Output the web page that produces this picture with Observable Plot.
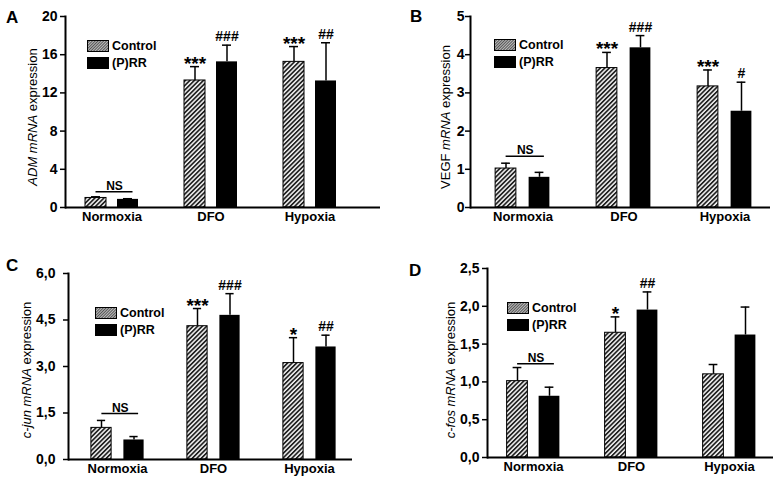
<!DOCTYPE html>
<html>
<head>
<meta charset="utf-8">
<script src="https://cdn.jsdelivr.net/npm/d3@7"></script>
<script src="https://cdn.jsdelivr.net/npm/@observablehq/plot@0.6"></script>
<style>
  body { margin: 0; background: #fff; }
  #wrap { position: relative; width: 779px; height: 480px; font-family: "Liberation Sans", Arial, sans-serif; color: #000; overflow: hidden; }
  .panel { position: absolute; }
  .plab { position: absolute; font-weight: bold; font-size: 17px; line-height: 1; }
  .ylab { position: absolute; font-size: 13px; white-space: nowrap; transform: translate(-50%, -50%) rotate(-90deg); line-height: 1; }
  .leg { position: absolute; display: flex; align-items: center; font-weight: bold; font-size: 12.5px; line-height: 1; }
  .leg svg { display: block; margin-right: 3px; }
</style>
</head>
<body>
<svg width="0" height="0" style="position:absolute">
  <defs>
    <pattern id="barHatch" width="3.2" height="3.2" patternUnits="userSpaceOnUse" patternTransform="rotate(45)">
      <rect width="3.2" height="3.2" fill="#f2f2f2"></rect>
      <rect width="1.7" height="3.2" fill="#222"></rect>
    </pattern>
    <pattern id="legHatch" width="2" height="2" patternUnits="userSpaceOnUse" patternTransform="rotate(45)">
      <rect width="2" height="2" fill="#bdbdbd"></rect>
      <rect width="1" height="2" fill="#555"></rect>
    </pattern>
  </defs>
</svg>
<div id="wrap"></div>
<script>
const groups = ["Normoxia", "DFO", "Hypoxia"];
const seriesNames = ["Control", "(P)RR"];

// Panel A: ADM
const admControl = [1.0, 13.3, 15.25];
const admControlErr = [0.12, 1.45, 1.6];
const admPRR = [0.85, 15.25, 13.25];
const admPRRErr = [0.07, 1.75, 4.0];
const admControlSig = ["", "***", "***"];
const admPRRSig = ["", "###", "##"];
const admNS = 1.64;
const admTicks = [0, 4, 8, 12, 16, 20];
const admTickLabels = ["0", "4", "8", "12", "16", "20"];

// Panel B: VEGF
const vegfControl = [1.02, 3.65, 3.17];
const vegfControlErr = [0.14, 0.41, 0.43];
const vegfPRR = [0.79, 4.18, 2.52];
const vegfPRRErr = [0.13, 0.32, 0.76];
const vegfControlSig = ["", "***", "***"];
const vegfPRRSig = ["", "###", "#"];
const vegfNS = 1.34;
const vegfTicks = [0, 1, 2, 3, 4, 5];
const vegfTickLabels = ["0", "1", "2", "3", "4", "5"];

// Panel C: c-jun
const cjunControl = [1.02, 4.30, 3.11];
const cjunControlErr = [0.24, 0.57, 0.82];
const cjunPRR = [0.63, 4.65, 3.63];
const cjunPRRErr = [0.11, 0.70, 0.38];
const cjunControlSig = ["", "***", "*"];
const cjunPRRSig = ["", "###", "##"];
const cjunNS = 1.48;
const cjunTicks = [0, 1.5, 3, 4.5, 6];
const cjunTickLabels = ["0,0", "1,5", "3,0", "4,5", "6,0"];

// Panel D: c-fos
const cfosControl = [1.01, 1.65, 1.10];
const cfosControlErr = [0.18, 0.21, 0.13];
const cfosPRR = [0.81, 1.95, 1.62];
const cfosPRRErr = [0.12, 0.24, 0.37];
const cfosControlSig = ["", "*", ""];
const cfosPRRSig = ["", "##", ""];
const cfosNS = 1.24;
const cfosTicks = [0, 0.5, 1, 1.5, 2, 2.5];
const cfosTickLabels = ["0,0", "0,5", "1,0", "1,5", "2,0", "2,5"];

const panels = [
  {id: "A", left: 0, top: 0, w: 390, m: [65, 10, 16, 33], yDomain: [0, 20],
   xRange: [61.5, 358.5], off: [-16, 16], tickPad: 3,
   ctrl: admControl, ctrlErr: admControlErr, prr: admPRR, prrErr: admPRRErr,
   ctrlSig: admControlSig, prrSig: admPRRSig, ns: admNS, ticks: admTicks, tickLabels: admTickLabels,
   gene: "ADM", geneItalic: true, ylab: [32, 117], plab: [6, 9], leg: [87, 40]},
  {id: "B", left: 390, top: 0, w: 389, m: [80, 9, 16, 33], yDomain: [0, 5],
   xRange: [81.9, 385.6], off: [-17, 16.5], tickPad: 1,
   ctrl: vegfControl, ctrlErr: vegfControlErr, prr: vegfPRR, prrErr: vegfPRRErr,
   ctrlSig: vegfControlSig, prrSig: vegfPRRSig, ns: vegfNS, ticks: vegfTicks, tickLabels: vegfTickLabels,
   gene: "VEGF", geneItalic: false, ylab: [445, 117], plab: [410, 8], leg: [494, 39]},
  {id: "C", left: 0, top: 240, w: 390, m: [68, 38, 33, 21], yDomain: [0, 6],
   xRange: [67.6, 357.9], off: [-16, 16.5], tickPad: 8,
   ctrl: cjunControl, ctrlErr: cjunControlErr, prr: cjunPRR, prrErr: cjunPRRErr,
   ctrlSig: cjunControlSig, prrSig: cjunPRRSig, ns: cjunNS, ticks: cjunTicks, tickLabels: cjunTickLabels,
   gene: "c-jun", geneItalic: true, ylab: [26, 370], plab: [6, 257], leg: [95, 307]},
  {id: "D", left: 390, top: 240, w: 389, m: [97, 6, 28, 23], yDomain: [0, 2.5],
   xRange: [93.4, 388.1], off: [-16, 16], tickPad: 3,
   ctrl: cfosControl, ctrlErr: cfosControlErr, prr: cfosPRR, prrErr: cfosPRRErr,
   ctrlSig: cfosControlSig, prrSig: cfosPRRSig, ns: cfosNS, ticks: cfosTicks, tickLabels: cfosTickLabels,
   gene: "c-fos", geneItalic: true, ylab: [450, 370], plab: [409, 262], leg: [507, 302]}
];

const wrap = document.getElementById("wrap");
const FONT = "'Liberation Sans', Arial, sans-serif";

function makePanel(p) {
  const rows = groups.map((g, i) => ({
    group: g,
    ctrl: p.ctrl[i], ctrlTop: p.ctrl[i] + p.ctrlErr[i], ctrlSig: p.ctrlSig[i],
    prr: p.prr[i], prrTop: p.prr[i] + p.prrErr[i], prrSig: p.prrSig[i]
  }));
  const nsRows = rows.filter((d) => d.group === groups[0]);
  const step = (p.xRange[1] - p.xRange[0]) / groups.length;
  const barW = 21, capW = 9;
  const barIns = (step - barW) / 2;
  const capIns = (step - capW) / 2;
  const [o1, o2] = p.off;
  const nsHalf = (o2 + 5 - o1) / 2;
  return Plot.plot({
    width: p.w, height: 240,
    marginLeft: p.m[0], marginRight: p.m[1], marginTop: p.m[2], marginBottom: p.m[3],
    style: {fontFamily: FONT, fontSize: "13px", fontWeight: "bold", color: "#000", background: "transparent", overflow: "visible"},
    x: {type: "band", domain: groups, range: p.xRange, padding: 0},
    y: {domain: p.yDomain},
    marks: [
      Plot.barY(rows, {x: "group", y: "ctrl", fill: "url(#barHatch)", stroke: "#000", strokeWidth: 1, insetLeft: barIns, insetRight: barIns, dx: o1}),
      Plot.barY(rows, {x: "group", y: "prr", fill: "#000", insetLeft: barIns, insetRight: barIns, dx: o2}),
      Plot.ruleX(rows, {x: "group", y1: "ctrl", y2: "ctrlTop", dx: o1, stroke: "#000", strokeWidth: 1.5}),
      Plot.ruleX(rows, {x: "group", y1: "prr", y2: "prrTop", dx: o2, stroke: "#000", strokeWidth: 1.5}),
      Plot.tickY(rows, {x: "group", y: "ctrlTop", dx: o1, insetLeft: capIns, insetRight: capIns, stroke: "#000", strokeWidth: 1.5}),
      Plot.tickY(rows, {x: "group", y: "prrTop", dx: o2, insetLeft: capIns, insetRight: capIns, stroke: "#000", strokeWidth: 1.5}),
      Plot.text(rows, {x: "group", y: "ctrlTop", text: "ctrlSig", dx: o1, dy: 3, lineAnchor: "bottom", fontSize: 19, fontWeight: "bold"}),
      Plot.text(rows, {x: "group", y: "prrTop", text: "prrSig", dx: o2, dy: -4, lineAnchor: "bottom", fontSize: 14, fontWeight: "bold"}),
      Plot.tickY(nsRows, {x: "group", y: () => p.ns, dx: (o1 + o2 + 5) / 2,
        insetLeft: step / 2 - nsHalf, insetRight: step / 2 - nsHalf, stroke: "#000", strokeWidth: 1.5}),
      Plot.text(nsRows, {x: "group", y: () => p.ns, text: () => "NS", dx: (o1 + o2 + 5) / 2, dy: -2, lineAnchor: "bottom", fontSize: 12, fontWeight: "bold"}),
      Plot.axisY({ticks: p.ticks, tickFormat: (d) => p.tickLabels[p.ticks.indexOf(d)], tickSize: 5, tickPadding: p.tickPad,
        strokeWidth: 1.5, fontSize: 14, fontWeight: "bold", label: null}),
      Plot.axisX({tickSize: 0, tickPadding: 4, fontSize: 13, fontWeight: "bold", label: null}),
      Plot.ruleY([0], {stroke: "#000", strokeWidth: 2}),
      Plot.frame({anchor: "left", stroke: "#000", strokeWidth: 2})
    ]
  });
}

for (const p of panels) {
  const div = document.createElement("div");
  div.className = "panel";
  div.style.left = p.left + "px";
  div.style.top = p.top + "px";
  div.style.width = p.w + "px";
  div.appendChild(makePanel(p));
  wrap.appendChild(div);

  const lab = document.createElement("div");
  lab.className = "plab";
  lab.style.left = p.plab[0] + "px";
  lab.style.top = p.plab[1] + "px";
  lab.textContent = p.id;
  wrap.appendChild(lab);

  const yl = document.createElement("div");
  yl.className = "ylab";
  yl.style.left = p.ylab[0] + "px";
  yl.style.top = p.ylab[1] + "px";
  const gene = p.geneItalic ? `<i>${p.gene}</i>` : p.gene;
  yl.innerHTML = `${gene} <i>mRNA</i> expression`;
  wrap.appendChild(yl);

  seriesNames.forEach((name, i) => {
    const lg = document.createElement("div");
    lg.className = "leg";
    lg.style.left = p.leg[0] + "px";
    lg.style.top = (p.leg[1] + i * 16.5) + "px";
    const fill = i === 0 ? "url(#legHatch)" : "#000";
    lg.innerHTML = `<svg width="22" height="12"><rect x="0.5" y="0.5" width="21" height="11" fill="${fill}" stroke="#000" stroke-width="1"></rect></svg><span>${name}</span>`;
    wrap.appendChild(lg);
  });
}
</script>
</body>
</html>
